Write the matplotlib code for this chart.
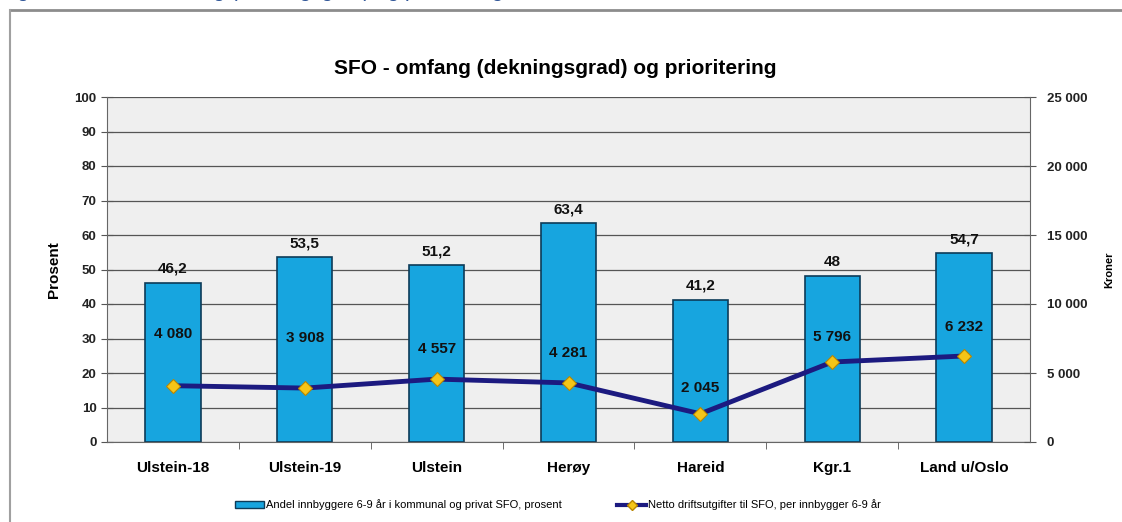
import matplotlib.pyplot as plt
from matplotlib.patches import Rectangle
from matplotlib.lines import Line2D

plt.rcParams['font.family'] = ['Liberation Sans', 'DejaVu Sans']

# data
kommuner = ['Ulstein-18', 'Ulstein-19', 'Ulstein', 'Herøy', 'Hareid', 'Kgr.1', 'Land u/Oslo']
andel = [46.2, 53.5, 51.2, 63.4, 41.2, 48, 54.7]
andel_txt = ['46,2', '53,5', '51,2', '63,4', '41,2', '48', '54,7']
netto = [4080, 3908, 4557, 4281, 2045, 5796, 6232]
netto_txt = ['4 080', '3 908', '4 557', '4 281', '2 045', '5 796', '6 232']
# label offset above point (pixels)
netto_off = [52, 50, 30, 30, 26, 25, 29]

fig = plt.figure(figsize=(11.22, 5.22), dpi=100)

# heading cut off at the top of the screenshot (only descenders visible), and the frame
fig.text(0.0, 1 + 3/522, 'Figur 5.2: SFO - omfang (dekningsgrad) og prioritering', color='#2f5597',
         fontsize=15, va='baseline', ha='left')
fig.add_artist(Line2D([10/1122, 1.0], [1-10/522, 1-10/522], color='#8c8c8c', lw=2, transform=fig.transFigure))
fig.add_artist(Line2D([10/1122, 10/1122], [0, 1-10/522], color='#a0a0a0', lw=1.5, transform=fig.transFigure))

ax = fig.add_axes([107/1122, 80/522, 923/1122, 345/522])
ax.set_facecolor('#efefef')
x = list(range(len(kommuner)))
bars = ax.bar(x, andel, width=0.42, color='#17a5df', edgecolor='#0d3b58', linewidth=1.2, zorder=2)
for xi, v, t in zip(x, andel, andel_txt):
    ax.annotate(t, (xi, v), xytext=(0, 5), textcoords='offset points', ha='center', va='bottom',
                fontsize=11, fontweight='bold', color='#111111')

ax.set_ylim(0, 100)
ax.set_xlim(-0.5, len(kommuner) - 0.5)
ax.set_yticks(range(0, 101, 10))
ax.yaxis.grid(True, color='#555555', lw=0.9, zorder=0)
ax.set_axisbelow(True)
ax.set_xticks(x)
ax.set_xticklabels(kommuner, fontsize=11, fontweight='bold')
ax.tick_params(axis='x', length=0, pad=14)
ax.set_xticks([i + 0.5 for i in x[:-1]], minor=True)
ax.tick_params(axis='x', which='minor', length=5, direction='out', color='#555555')
ax.tick_params(axis='y', labelsize=9.5, direction='inout', length=8, color='#555555', labelcolor='#222222')
for lab in ax.get_yticklabels():
    lab.set_fontweight('bold')
ax.set_ylabel('Prosent', fontsize=11, fontweight='bold', labelpad=10)
for s in ['top', 'right']:
    ax.spines[s].set_visible(False)
ax.spines['left'].set_color('#666666')
ax.spines['bottom'].set_color('#666666')

ax2 = ax.twinx()
ax2.plot(x, netto, color='#1c1a80', lw=3.5, marker='D', markersize=7,
         markerfacecolor='#f5c518', markeredgecolor='#b88600', markeredgewidth=0.8, zorder=3)
for xi, v, t, o in zip(x, netto, netto_txt, netto_off):
    ax2.annotate(t, (xi, v), xytext=(0, o * 0.72), textcoords='offset points', ha='center', va='center',
                 fontsize=11, fontweight='bold', color='#111111')
ax2.set_ylim(0, 25000)
ax2.set_yticks(range(0, 25001, 5000))
ax2.set_yticklabels(['0', '5 000', '10 000', '15 000', '20 000', '25 000'], fontsize=9.5, fontweight='bold',
                    color='#222222')
ax2.tick_params(axis='y', direction='inout', length=8, color='#555555', pad=8)
ax2.set_ylabel('Kroner', fontsize=8, fontweight='bold', labelpad=12)
for s in ['top', 'left', 'bottom']:
    ax2.spines[s].set_visible(False)
ax2.spines['right'].set_color('#666666')

fig.text(555/1122, 1 - 68/522, 'SFO - omfang (dekningsgrad) og prioritering', ha='center', va='center',
         fontsize=15, fontweight='bold')

handles = [Rectangle((0, 0), 1, 1, facecolor='#17a5df', edgecolor='#0d3b58'),
           Line2D([], [], color='#1c1a80', lw=3, marker='D', markersize=5,
                  markerfacecolor='#f5c518', markeredgecolor='#b88600')]
labels = ['Andel innbyggere 6-9 år i kommunal og privat SFO, prosent',
          'Netto driftsutgifter til SFO, per innbygger 6-9 år']
fig.legend(handles, labels, loc='center', bbox_to_anchor=(558/1122, 1 - 505/522), ncol=2, frameon=False,
           fontsize=8, handlelength=2.6, handletextpad=0.2, columnspacing=5)

fig.savefig('out.png', dpi=100)
